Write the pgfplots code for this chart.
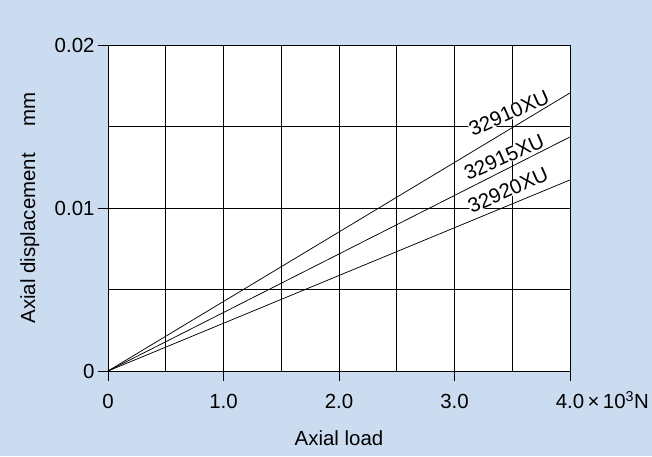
\documentclass[border=0pt]{standalone}
\usepackage{fontspec}
\setmainfont{Liberation Sans}
\usepackage{pgfplots}
\pgfplotsset{compat=1.18}
\usetikzlibrary{backgrounds}
\definecolor{bgblue}{RGB}{204,220,240}
\begin{document}
\begin{tikzpicture}
\begin{axis}[name=ax, scale only axis, width=462bp, height=326bp,
  xmin=0, xmax=4, ymin=0, ymax=0.02,
  scaled y ticks=false, scaled x ticks=false,
  xtick={0,1,2,3,4},
  xticklabels={0,1.0,2.0,3.0,{4.0\rlap{\smash{\,×\,10\textsuperscript{3}N}}}},
  ytick={0,0.01,0.02}, yticklabels={0,0.01,0.02},
  minor xtick={0.5,1.5,2.5,3.5}, minor ytick={0.005,0.015},
  xtick pos=left, ytick pos=left,
  grid=both,
  major grid style={black, line width=0.6pt},
  minor grid style={black, line width=0.6pt},
  tick align=outside, major tick length=10bp, minor tick length=0pt,
  axis line style={black, line width=0.6pt},
  tick style={black, line width=0.6pt},
  axis background/.style={fill=white},
  /pgf/number format/assume math mode=true,
  tick label style={font=\fontsize{20.5}{24}\selectfont},
  xticklabel style={yshift=-10bp},
  label style={font=\fontsize{20.5}{24}\selectfont},
  xlabel={Axial load}, ylabel={Axial displacement\hspace{1.3em}mm},
  xlabel style={at={(rel axis cs:0.5,-0.205)}, anchor=center},
  ylabel style={at={(rel axis cs:-0.169,0.5)}, anchor=center},
  clip=false,
]
\addplot[black, line width=0.75pt] coordinates {(0,0) (4,0.01706)};
\addplot[black, line width=0.75pt] coordinates {(0,0) (4,0.01436)};
\addplot[black, line width=0.75pt] coordinates {(0,0) (4,0.01172)};
\node[rotate=24, fill=white, inner sep=0pt, font=\fontsize{20.5}{24}\selectfont] at (axis cs:3.472,0.01583) {32910XU};
\node[rotate=24, fill=white, inner sep=0pt, font=\fontsize{20.5}{24}\selectfont] at (axis cs:3.429,0.01313) {32915XU};
\node[rotate=24, fill=white, inner sep=0pt, font=\fontsize{20.5}{24}\selectfont] at (axis cs:3.463,0.0111) {32920XU};
\end{axis}
\begin{scope}[on background layer]
\fill[bgblue] ([shift={(-108bp,-85bp)}]ax.south west) rectangle ([shift={(82bp,45bp)}]ax.north east);
\end{scope}
\end{tikzpicture}
\end{document}
